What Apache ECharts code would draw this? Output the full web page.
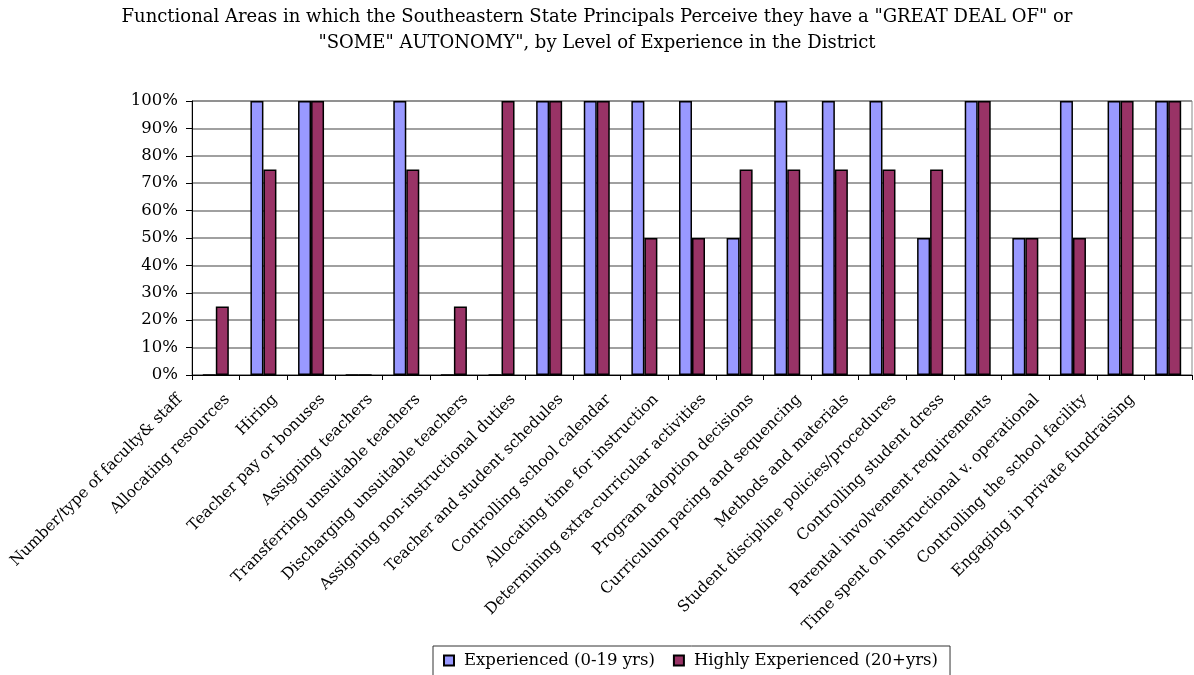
<!DOCTYPE html>
<html>
<head>
<meta charset="utf-8">
<script src="https://cdn.jsdelivr.net/npm/echarts@6/dist/echarts.min.js"></script>
<style>
  html, body { margin: 0; padding: 0; background: #fff; }
  #chart { width: 1194px; height: 675px; }
</style>
</head>
<body>
<div id="chart"></div>
<script>
// Functional areas (x-axis categories)
const categories = [
  'Number/type of faculty& staff',
  'Allocating resources',
  'Hiring',
  'Teacher pay or bonuses',
  'Assigning teachers',
  'Transferring unsuitable teachers',
  'Discharging unsuitable teachers',
  'Assigning non-instructional duties',
  'Teacher and student schedules',
  'Controlling school calendar',
  'Allocating time for instruction',
  'Determining extra-curricular activities',
  'Program adoption decisions',
  'Curriculum pacing and sequencing',
  'Methods and materials',
  'Student discipline policies/procedures',
  'Controlling student dress',
  'Parental involvement requirements',
  'Time spent on instructional v. operational',
  'Controlling the school facility',
  'Engaging in private fundraising'
];

// Share of principals (%) reporting a great deal of / some autonomy
const experienced = [0, 100, 100, 0, 100, 0, 0, 100, 100, 100, 100, 50, 100, 100, 100, 50, 100, 50, 100, 100, 100];
const highlyExperienced = [25, 75, 100, 0, 75, 25, 100, 100, 100, 50, 50, 75, 75, 75, 75, 75, 100, 50, 50, 100, 100];

const seriesNames = ['Experienced (0-19 yrs)', 'Highly Experienced (20+yrs)'];

const titleLines = [
  'Functional Areas in which the Southeastern State Principals Perceive they have a "GREAT DEAL OF" or',
  '"SOME" AUTONOMY", by Level of Experience in the District'
];

const FONT = '"DejaVu Serif", "Liberation Serif", serif';

const chart = echarts.init(document.getElementById('chart'));
chart.setOption({
  animation: false,
  backgroundColor: '#ffffff',
  textStyle: { fontFamily: FONT },
  title: {
    text: titleLines.join('\n'),
    left: 'center',
    top: -1,
    textStyle: {
      fontFamily: FONT,
      fontSize: 18,
      fontWeight: 'normal',
      color: '#000',
      lineHeight: 26
    }
  },
  legend: {
    bottom: -8,
    left: 433,
    itemWidth: 10,
    itemHeight: 10,
    itemGap: 18,
    icon: 'rect',
    padding: [6, 12, 14, 10],
    borderColor: '#333',
    borderWidth: 1,
    borderRadius: 0,
    textStyle: { fontFamily: FONT, fontSize: 16.5, color: '#000', padding: [0, 0, 0, 5] },
    data: seriesNames
  },
  grid: {
    left: 192,
    right: 2,
    top: 101,
    bottom: 300,
    containLabel: false,
    show: true,
    borderColor: '#888',
    borderWidth: 1
  },
  xAxis: {
    type: 'category',
    data: categories,
    axisLine: { lineStyle: { color: '#000', width: 1 } },
    axisTick: { show: true, alignWithLabel: false, length: 5, lineStyle: { color: '#000' } },
    axisLabel: {
      interval: 0,
      rotate: 45,
      margin: -14,
      padding: [0, 51, 0, 0],
      fontFamily: FONT,
      fontSize: 15.5,
      color: '#000'
    }
  },
  yAxis: {
    type: 'value',
    min: 0,
    max: 100,
    interval: 10,
    axisLine: { show: true, lineStyle: { color: '#000', width: 1 } },
    axisTick: { show: true, length: 6, lineStyle: { color: '#000' } },
    splitLine: { show: true, lineStyle: { color: '#808080', width: 1.5 } },
    axisLabel: {
      formatter: '{value}%',
      margin: 14,
      fontFamily: FONT,
      fontSize: 16.5,
      color: '#000'
    }
  },
  series: [
    {
      name: seriesNames[0],
      type: 'bar',
      data: experienced,
      barWidth: 13,
      barGap: '0%',
      itemStyle: { color: '#9999FF', borderColor: '#000', borderWidth: 1.5 }
    },
    {
      name: seriesNames[1],
      type: 'bar',
      data: highlyExperienced,
      barWidth: 13,
      barGap: '0%',
      itemStyle: { color: '#993366', borderColor: '#000', borderWidth: 1.5 }
    }
  ]
});
</script>
</body>
</html>
